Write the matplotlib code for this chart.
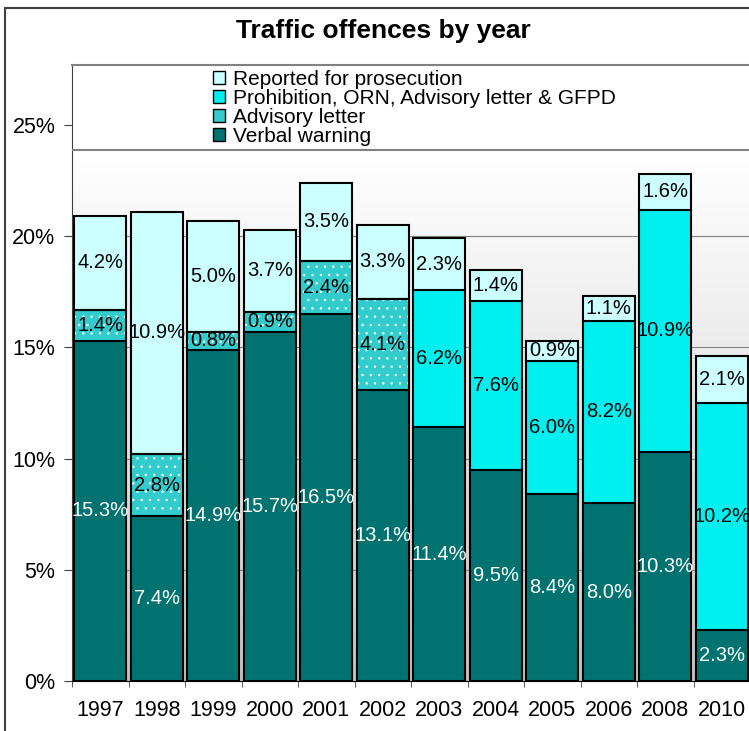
import matplotlib.pyplot as plt
import matplotlib.patches as mpatches
import numpy as np
from matplotlib.colors import LinearSegmentedColormap

# data (percent of offences)
years = ["1997", "1998", "1999", "2000", "2001", "2002",
         "2003", "2004", "2005", "2006", "2008", "2010"]
verbal = [15.3, 7.4, 14.9, 15.7, 16.5, 13.1, 11.4, 9.5, 8.4, 8.0, 10.3, 2.3]
advisory = [1.4, 2.8, 0.8, 0.9, 2.4, 4.1, 0, 0, 0, 0, 0, 0]
prohibition = [0, 0, 0, 0, 0, 0, 6.2, 7.6, 6.0, 8.2, 10.9, 10.2]
reported = [4.2, 10.9, 5.0, 3.7, 3.5, 3.3, 2.3, 1.4, 0.9, 1.1, 1.6, 2.1]

names = ["Verbal warning", "Advisory letter",
         "Prohibition, ORN, Advisory letter & GFPD", "Reported for prosecution"]
colors = ["#007370", "#33cccc", "#00f0f0", "#ccffff"]
text_colors = ["white", "black", "black", "black"]

plt.rcParams['font.family'] = ['Liberation Sans', 'DejaVu Sans']
plt.rcParams['hatch.linewidth'] = 0.6

fig = plt.figure(figsize=(7.49, 7.31), dpi=100)
ax = fig.add_axes([72/749, 1-681/731, 678/749, 616/731])

x = np.arange(len(years))
ymax = 27.7
legend_bottom = 23.9

# gray to white background below the legend strip
grad = np.linspace(0, 1, 256).reshape(-1, 1) ** 0.8
cmap = LinearSegmentedColormap.from_list('bg', ['#c0c0c0', '#ffffff'])
ax.imshow(grad, extent=(-0.5, 11.5, 0, legend_bottom), origin='lower',
          aspect='auto', cmap=cmap, zorder=0)

for v in [5, 10, 15, 20]:
    ax.axhline(v, color='#808080', lw=0.8, zorder=1)

bottom = np.zeros(len(years))
for i, vals in enumerate([verbal, advisory, prohibition, reported]):
    vals = np.array(vals)
    keep = vals > 0
    if i == 1:
        # white dotted fill, then black outline
        ax.bar(x[keep], vals[keep], 0.92, bottom=bottom[keep], color=colors[i],
               edgecolor='#e8ffff', lw=0, hatch='..', zorder=2)
        ax.bar(x[keep], vals[keep], 0.92, bottom=bottom[keep], fill=False,
               edgecolor='black', lw=1.5, zorder=3)
    else:
        ax.bar(x[keep], vals[keep], 0.92, bottom=bottom[keep], color=colors[i],
               edgecolor='black', lw=1.5, zorder=2)
    for xi, b, v in zip(x[keep], bottom[keep], vals[keep]):
        ax.text(xi, b + v/2, f"{v:.1f}%", ha='center', va='center',
                color=text_colors[i], fontsize=14.5, zorder=5)
    bottom = bottom + vals

# legend strip at top of plot area
ax.axhline(legend_bottom, color='#808080', lw=1.5, zorder=3)
handles = [mpatches.Patch(facecolor=c, edgecolor='black', lw=1) for c in colors]
ax.legend(handles[::-1], names[::-1], loc='upper left', bbox_to_anchor=(0.2, 1.0),
          frameon=False, fontsize=15, handlelength=0.6, handleheight=0.6,
          handletextpad=0.35, labelspacing=0.0, borderaxespad=0, borderpad=0.25)

ax.set_xlim(-0.5, 11.5)
ax.set_ylim(0, ymax)

ax.set_yticks([0, 5, 10, 15, 20, 25])
ax.set_yticklabels(["0%", "5%", "10%", "15%", "20%", "25%"])
ax.tick_params(axis='y', direction='out', length=6, color='#404040', labelsize=15.5, pad=6)
ax.set_xticks(x)
ax.set_xticklabels(years)
ax.tick_params(axis='x', length=0, pad=14, labelsize=15.5)
ax.set_xticks(np.arange(-0.5, 12, 1), minor=True)
ax.tick_params(axis='x', which='minor', length=4, direction='out', color='#404040')

ax.spines['right'].set_visible(False)
ax.spines['top'].set_color('#808080')
ax.spines['top'].set_linewidth(1.5)
ax.spines['left'].set_color('#404040')
ax.spines['bottom'].set_color('black')

# outer chart border
fig.add_artist(mpatches.Rectangle((5/749, -0.1), 1.2, 1 - 8/731 + 0.1,
                                  transform=fig.transFigure, fill=False,
                                  ec='#404040', lw=1.5))

fig.text(383/749, 1 - 31/731, "Traffic offences by year", ha='center', va='center',
         fontsize=19, fontweight='bold')

fig.savefig('out.png', dpi=100)
